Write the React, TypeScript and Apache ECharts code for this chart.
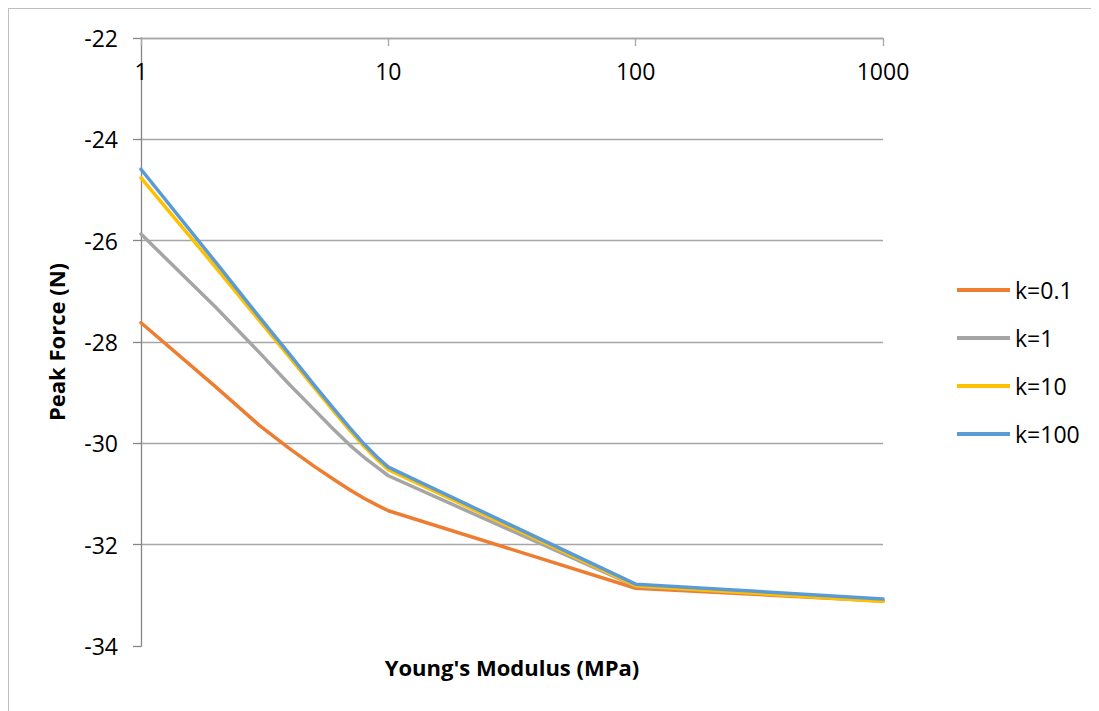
import React, { useEffect, useRef } from "react";
import * as echarts from "echarts";

const modulus = [1, 2, 3, 4, 5, 6, 7, 8, 9, 10, 100, 1000];
const k01 = [-27.62, -28.88, -29.64, -30.11, -30.45, -30.71, -30.92, -31.09, -31.22, -31.33, -32.86, -33.11];
const k1 = [-25.87, -27.31, -28.2, -28.85, -29.33, -29.72, -30.04, -30.28, -30.47, -30.64, -32.82, -33.1];
const k10 = [-24.76, -26.52, -27.57, -28.31, -28.89, -29.36, -29.75, -30.07, -30.32, -30.52, -32.81, -33.12];
const k100 = [-24.59, -26.42, -27.5, -28.25, -28.84, -29.31, -29.7, -30.02, -30.27, -30.47, -32.78, -33.07];
const seriesNames = ["k=0.1", "k=1", "k=10", "k=100"];
const seriesValues = [k01, k1, k10, k100];
const colors = ["#ED7D31", "#A5A5A5", "#FFC000", "#5B9BD5"];

const FONT = "'Open Sans', 'Noto Sans', sans-serif";

export default function App() {
  const ref = useRef<HTMLDivElement>(null);
  useEffect(() => {
    document.body.style.overflow = "hidden";
    const chart = echarts.init(ref.current!, undefined, { renderer: "svg" });
    chart.setOption({
      animation: false,
      color: colors,
      grid: { left: 132, top: 29, width: 742, height: 608 },
      xAxis: {
        type: "log",
        logBase: 10,
        min: 1,
        max: 1000,
        position: "top",
        axisLine: { show: true, lineStyle: { color: "#a6a6a6", width: 1.3 } },
        axisTick: { show: true, inside: true, length: 8, lineStyle: { color: "#a6a6a6", width: 1.3 } },
        axisLabel: {
          inside: true,
          margin: 21,
          fontSize: 23,
          color: "#000",
          fontFamily: FONT,
          formatter: (v: number) => String(Math.round(v)),
        },
        splitLine: { show: false },
        minorTick: { show: false },
      },
      yAxis: {
        type: "value",
        min: -34,
        max: -22,
        interval: 2,
        name: "Peak Force (N)",
        nameLocation: "middle",
        nameGap: 74,
        nameTextStyle: { fontSize: 22, fontWeight: "bold", color: "#000", fontFamily: FONT },
        axisLine: { show: true, lineStyle: { color: "#868686", width: 1.3 } },
        axisTick: { show: true, length: 8, lineStyle: { color: "#868686", width: 1.3 } },
        axisLabel: { margin: 23, fontSize: 23, color: "#000", fontFamily: FONT },
        splitLine: {
          show: true,
          lineStyle: {
            color: ["rgba(0,0,0,0)", "#a6a6a6", "#a6a6a6", "#a6a6a6", "#a6a6a6", "#a6a6a6", "#a6a6a6"],
            width: 1.3,
          },
        },
      },
      legend: {
        orient: "vertical",
        left: 943,
        top: 263,
        icon: "rect",
        itemWidth: 53,
        itemHeight: 4,
        itemGap: 22,
        textStyle: { fontSize: 23, color: "#000", fontFamily: FONT, lineHeight: 26 },
        data: seriesNames,
      },
      graphic: [
        {
          type: "text",
          x: 503,
          y: 658,
          style: {
            text: "Young's Modulus (MPa)",
            fontSize: 22,
            fontWeight: "bold",
            fill: "#000",
            fontFamily: FONT,
            textAlign: "center",
            textVerticalAlign: "middle",
          },
        },
      ],
      series: seriesNames.map((name, i) => ({
        name,
        type: "line",
        data: modulus.map((m, j) => [m, seriesValues[i][j]]),
        symbol: "none",
        lineStyle: { width: 3.5, color: colors[i], cap: "round", join: "round" },
        itemStyle: { color: colors[i] },
        z: 2 + i,
      })),
    });
    return () => chart.dispose();
  }, []);
  return (
    <div
      ref={ref}
      style={{ width: 1091, height: 703, border: "1px solid #bfbfbf" }}
    />
  );
}
